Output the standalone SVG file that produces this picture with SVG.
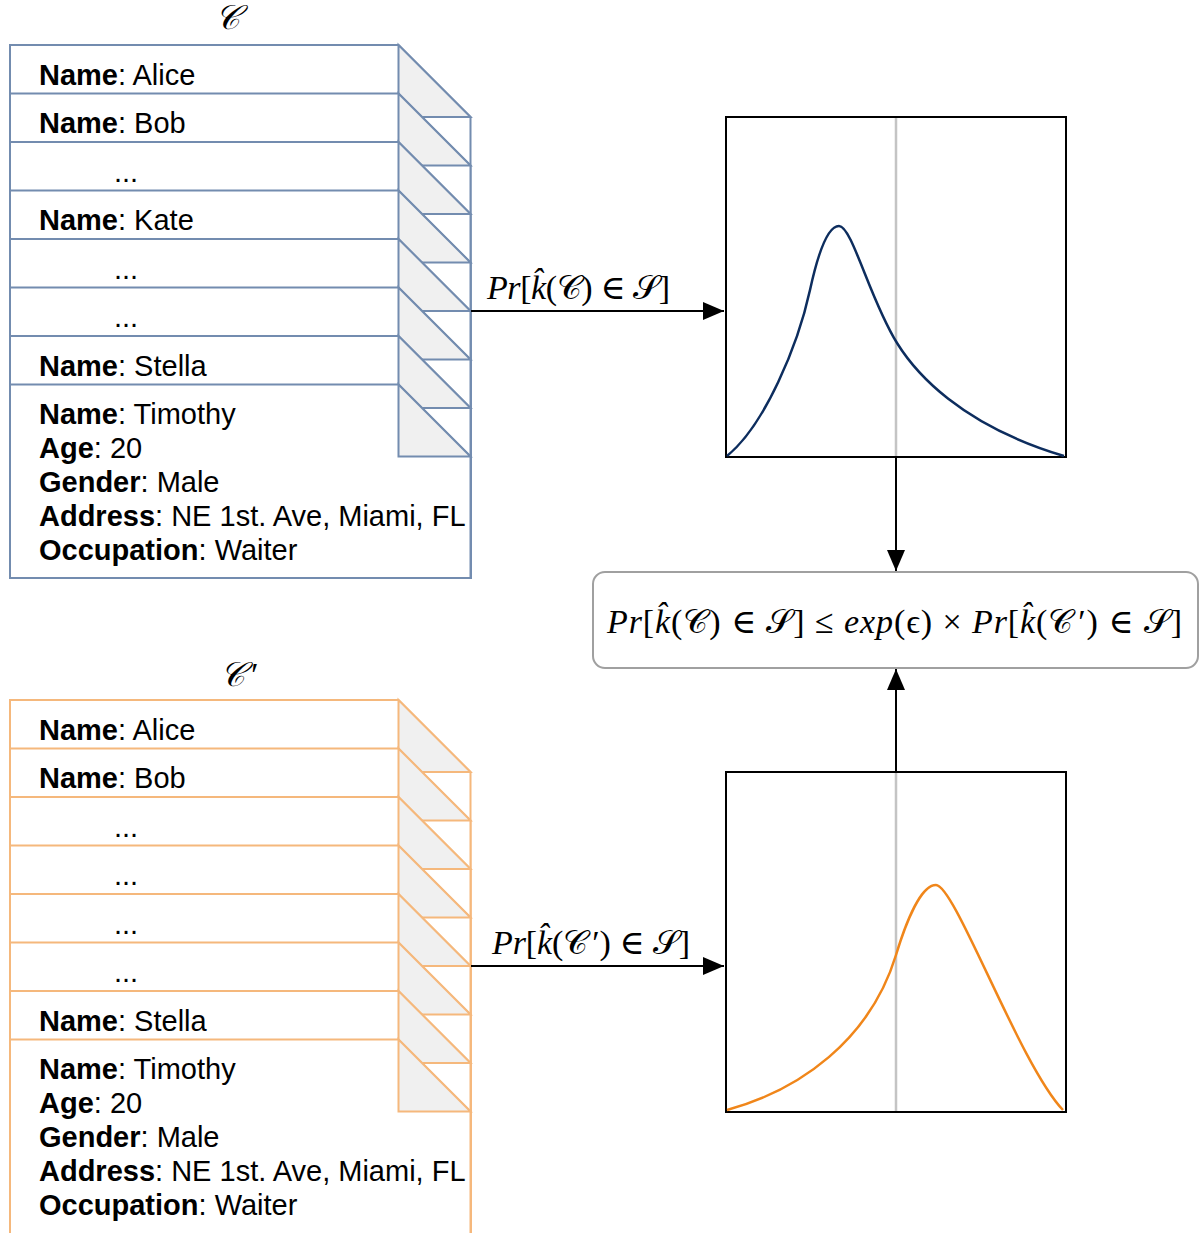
<svg xmlns="http://www.w3.org/2000/svg" width="1199" height="1233" viewBox="0 0 1199 1233">
<style>
.cb{fill:#fff;stroke:#738caf;stroke-width:2}
.fb{fill:#f0f0f0;stroke:#738caf;stroke-width:2;stroke-linejoin:miter}
.co{fill:#fff;stroke:#f5b87c;stroke-width:2}
.fo{fill:#f0f0f0;stroke:#f5b87c;stroke-width:2}
.t{font-family:"Liberation Sans",Arial,sans-serif;font-size:29px;fill:#000}
.b{font-weight:bold}
.m{font-family:"Liberation Serif","DejaVu Serif",serif;font-size:34px;fill:#000}
.i{font-style:italic}
.ax{fill:#fff;stroke:#000;stroke-width:2}
.gl{stroke:#c4c4c4;stroke-width:2.5}
.ln{fill:none;stroke:#000;stroke-width:2}
</style>
<defs>
<marker id="ah" markerWidth="22" markerHeight="18" refX="21" refY="9" orient="auto" markerUnits="userSpaceOnUse">
<path d="M0,0 L21,9 L0,18 Z" fill="#000"/>
</marker>
</defs>

<text x="227" y="29" class="m i" text-anchor="middle">𝒞</text>

<g id="stack-c">
<g id="c1"><path class="cb" d="M10,45 H398.5 L470.5,117 V578 H10 Z"/><path class="fb" d="M398.5,45 V117 H470.5 Z"/><text class="t" x="39" y="84.5"><tspan class="b">Name</tspan>: Alice</text></g>
<g id="c2"><path class="cb" d="M10,93.5 H398.5 L470.5,165.5 V578 H10 Z"/><path class="fb" d="M398.5,93.5 V165.5 H470.5 Z"/><text class="t" x="39" y="133"><tspan class="b">Name</tspan>: Bob</text></g>
<g id="c3"><path class="cb" d="M10,142 H398.5 L470.5,214 V578 H10 Z"/><path class="fb" d="M398.5,142 V214 H470.5 Z"/><text class="t" x="126" y="181.5" text-anchor="middle">...</text></g>
<g id="c4"><path class="cb" d="M10,190.5 H398.5 L470.5,262.5 V578 H10 Z"/><path class="fb" d="M398.5,190.5 V262.5 H470.5 Z"/><text class="t" x="39" y="230"><tspan class="b">Name</tspan>: Kate</text></g>
<g id="c5"><path class="cb" d="M10,239 H398.5 L470.5,311 V578 H10 Z"/><path class="fb" d="M398.5,239 V311 H470.5 Z"/><text class="t" x="126" y="278.5" text-anchor="middle">...</text></g>
<g id="c6"><path class="cb" d="M10,287.5 H398.5 L470.5,359.5 V578 H10 Z"/><path class="fb" d="M398.5,287.5 V359.5 H470.5 Z"/><text class="t" x="126" y="327" text-anchor="middle">...</text></g>
<g id="c7"><path class="cb" d="M10,336 H398.5 L470.5,408 V578 H10 Z"/><path class="fb" d="M398.5,336 V408 H470.5 Z"/><text class="t" x="39" y="375.5"><tspan class="b">Name</tspan>: Stella</text></g>
<g id="c8"><path class="cb" d="M10,384.5 H398.5 L470.5,456.5 V578 H10 Z"/><path class="fb" d="M398.5,384.5 V456.5 H470.5 Z"/>
<text class="t" x="39" y="424"><tspan class="b">Name</tspan>: Timothy</text>
<text class="t" x="39" y="458"><tspan class="b">Age</tspan>: 20</text>
<text class="t" x="39" y="492"><tspan class="b">Gender</tspan>: Male</text>
<text class="t" x="39" y="526"><tspan class="b">Address</tspan>: NE 1st. Ave, Miami, FL</text>
<text class="t" x="39" y="560"><tspan class="b">Occupation</tspan>: Waiter</text></g>
</g>

<text x="220" y="686" class="m i">𝒞<tspan dx="4">′</tspan></text>

<g id="stack-c-prime">
<g id="d1"><path class="co" d="M10,700 H398.5 L470.5,772 V1240 H10 Z"/><path class="fo" d="M398.5,700 V772 H470.5 Z"/><text class="t" x="39" y="739.5"><tspan class="b">Name</tspan>: Alice</text></g>
<g id="d2"><path class="co" d="M10,748.5 H398.5 L470.5,820.5 V1240 H10 Z"/><path class="fo" d="M398.5,748.5 V820.5 H470.5 Z"/><text class="t" x="39" y="788"><tspan class="b">Name</tspan>: Bob</text></g>
<g id="d3"><path class="co" d="M10,797 H398.5 L470.5,869 V1240 H10 Z"/><path class="fo" d="M398.5,797 V869 H470.5 Z"/><text class="t" x="126" y="836.5" text-anchor="middle">...</text></g>
<g id="d4"><path class="co" d="M10,845.5 H398.5 L470.5,917.5 V1240 H10 Z"/><path class="fo" d="M398.5,845.5 V917.5 H470.5 Z"/><text class="t" x="126" y="885" text-anchor="middle">...</text></g>
<g id="d5"><path class="co" d="M10,894 H398.5 L470.5,966 V1240 H10 Z"/><path class="fo" d="M398.5,894 V966 H470.5 Z"/><text class="t" x="126" y="933.5" text-anchor="middle">...</text></g>
<g id="d6"><path class="co" d="M10,942.5 H398.5 L470.5,1014.5 V1240 H10 Z"/><path class="fo" d="M398.5,942.5 V1014.5 H470.5 Z"/><text class="t" x="126" y="982" text-anchor="middle">...</text></g>
<g id="d7"><path class="co" d="M10,991 H398.5 L470.5,1063 V1240 H10 Z"/><path class="fo" d="M398.5,991 V1063 H470.5 Z"/><text class="t" x="39" y="1030.5"><tspan class="b">Name</tspan>: Stella</text></g>
<g id="d8"><path class="co" d="M10,1039.5 H398.5 L470.5,1111.5 V1240 H10 Z"/><path class="fo" d="M398.5,1039.5 V1111.5 H470.5 Z"/>
<text class="t" x="39" y="1079"><tspan class="b">Name</tspan>: Timothy</text>
<text class="t" x="39" y="1113"><tspan class="b">Age</tspan>: 20</text>
<text class="t" x="39" y="1147"><tspan class="b">Gender</tspan>: Male</text>
<text class="t" x="39" y="1181"><tspan class="b">Address</tspan>: NE 1st. Ave, Miami, FL</text>
<text class="t" x="39" y="1215"><tspan class="b">Occupation</tspan>: Waiter</text></g>
</g>

<g id="chart-top">
<rect class="ax" x="726" y="117" width="340" height="340"/>
<line class="gl" x1="896" y1="118" x2="896" y2="456"/>
<path fill="none" stroke="#0d2d5e" stroke-width="2.5" d="M727,456 C765,425 798,345 810,290 C816,262.5 826,226 839,226 C852,226 870,300 897,343 C915,372 960,425 1064,456"/>
</g>

<g id="chart-bottom">
<rect class="ax" x="726" y="772" width="340" height="340"/>
<line class="gl" x1="896" y1="773" x2="896" y2="1111"/>
<path fill="none" stroke="#f0861a" stroke-width="2.5" d="M727,1110 C800,1090 870,1040 896,955 C906,922 921,885 936,885 C955,885 1020,1065 1063,1110"/>
</g>

<g id="formula">
<rect x="593" y="572" width="605" height="96" rx="12" fill="#fff" stroke="#a0a0a0" stroke-width="2"/>
<text class="m" x="607" y="633" textLength="575" lengthAdjust="spacing"><tspan class="i">Pr</tspan>[<tspan class="i">k̂</tspan>(𝒞) ∈ 𝒮] ≤ <tspan class="i">exp</tspan>(ϵ) × <tspan class="i">Pr</tspan>[<tspan class="i">k̂</tspan>(𝒞<tspan dx="4">′</tspan>) ∈ 𝒮]</text>
</g>

<g id="connectors">
<line class="ln" x1="471" y1="311" x2="724" y2="311" marker-end="url(#ah)"/>
<line class="ln" x1="471" y1="966" x2="724" y2="966" marker-end="url(#ah)"/>
<line class="ln" x1="896" y1="457" x2="896" y2="571" marker-end="url(#ah)"/>
<line class="ln" x1="896" y1="772" x2="896" y2="669" marker-end="url(#ah)"/>
<text class="m" x="487" y="299" textLength="183" lengthAdjust="spacing"><tspan class="i">Pr</tspan>[<tspan class="i">k̂</tspan>(𝒞) ∈ 𝒮]</text>
<text class="m" x="492" y="954" textLength="198" lengthAdjust="spacing"><tspan class="i">Pr</tspan>[<tspan class="i">k̂</tspan>(𝒞<tspan dx="4">′</tspan>) ∈ 𝒮]</text>
</g>
</svg>
